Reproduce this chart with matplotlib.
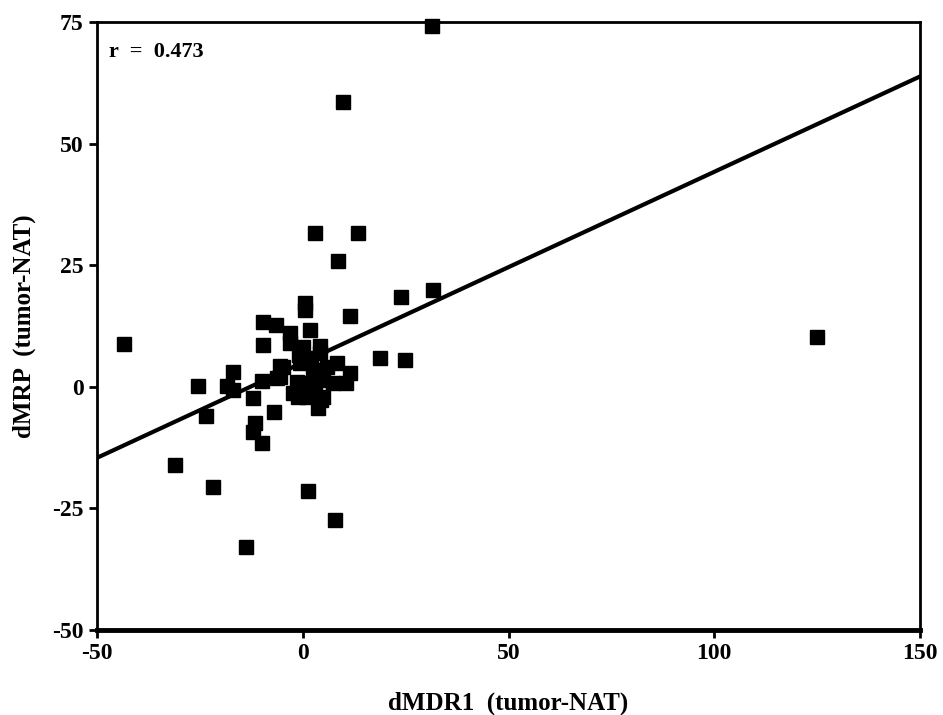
import matplotlib
matplotlib.use("Agg")
import matplotlib.pyplot as plt
import numpy as np

# ---------------------------------------------------------------------------
# Data
# ---------------------------------------------------------------------------

d_mdr1 = [
    -43.5, 31.3, 9.7, 125.0, 2.9, 13.4, 8.5, 23.8, 31.6, 0.5,
    0.5, 11.4, -9.6, -6.4, -9.6, -3.2, 1.7, 4.1, 8.2, 18.7,
    24.8, 11.4, 10.6, -5.6, -5.6, -10.0, -16.9, -18.5, -16.9, -25.4,
    -12.1, -23.6, -7.0, -11.7, -12.1, -10.0, -1.1, 3.7, 4.5, -31.1,
    -21.9, 1.3, 7.8, -13.9,
    -3.2, 0.0, 4.1, -4.9, -0.7, 2.5, -6.3, -1.5, 1.7, 4.9,
    7.3, -2.4, 1.0, 4.9, 2.0, -1.0, 6.0, 3.0,
]
d_mrp = [
    8.8, 74.1, 58.6, 10.3, 31.7, 31.7, 25.9, 18.5, 20.0, 17.3,
    15.8, 14.6, 13.4, 12.8, 8.5, 11.0, 11.7, 8.3, 4.9, 5.9,
    5.6, 2.8, 0.8, 4.2, 2.1, 1.1, 3.1, 0.1, -0.6, 0.2,
    -2.3, -6.0, -5.1, -7.5, -9.2, -11.6, -2.0, -4.4, -2.7, -16.0,
    -20.5, -21.5, -27.4, -33.0,
    9.0, 8.2, 7.0, 4.1, 4.9, 3.5, 1.8, 1.0, 0.8, 1.4,
    0.8, -1.2, -2.0, -2.0, 6.0, 6.5, 4.0, -0.5,
]

# regression line as drawn in the figure
fit_intercept = 5.0
fit_slope = 0.392
r_value = 0.473

x_ticks = [-50, 0, 50, 100, 150]
y_ticks = [-50, -25, 0, 25, 50, 75]

# ---------------------------------------------------------------------------
# Plot
# ---------------------------------------------------------------------------

plt.rcParams["font.family"] = ["Liberation Serif", "DejaVu Serif"]
plt.rcParams["font.weight"] = "bold"
plt.rcParams["axes.unicode_minus"] = False

fig = plt.figure(figsize=(9.43, 7.15), dpi=100)
ax = fig.add_axes([0.1029, 0.1189, 0.8727, 0.8503])

ax.plot(d_mdr1, d_mrp, "s", color="black", markersize=10, zorder=3,
        clip_on=False)

xs = np.array([-50, 150])
ax.plot(xs, fit_intercept + fit_slope * xs, color="black", lw=3, zorder=2)

ax.set_xlim(-50, 150)
ax.set_ylim(-50, 75)
ax.set_xticks(x_ticks)
ax.set_yticks(y_ticks)
ax.tick_params(direction="out", length=6, width=2, labelsize=17,
               top=False, right=False)
for lbl in ax.get_xticklabels() + ax.get_yticklabels():
    lbl.set_fontweight("bold")

for side in ["left", "right", "top"]:
    ax.spines[side].set_linewidth(2)
ax.spines["bottom"].set_linewidth(3.5)

ax.set_xlabel("dMDR1  (tumor-NAT)", fontsize=18, fontweight="bold",
              labelpad=20)
ax.set_ylabel("dMRP  (tumor-NAT)", fontsize=18, fontweight="bold",
              labelpad=12)

ax.text(0.015, 0.951, f"r  =  {r_value:.3f}", transform=ax.transAxes,
        fontsize=16, fontweight="bold", va="center", ha="left")

fig.savefig("out.png", dpi=100)
plt.close(fig)
